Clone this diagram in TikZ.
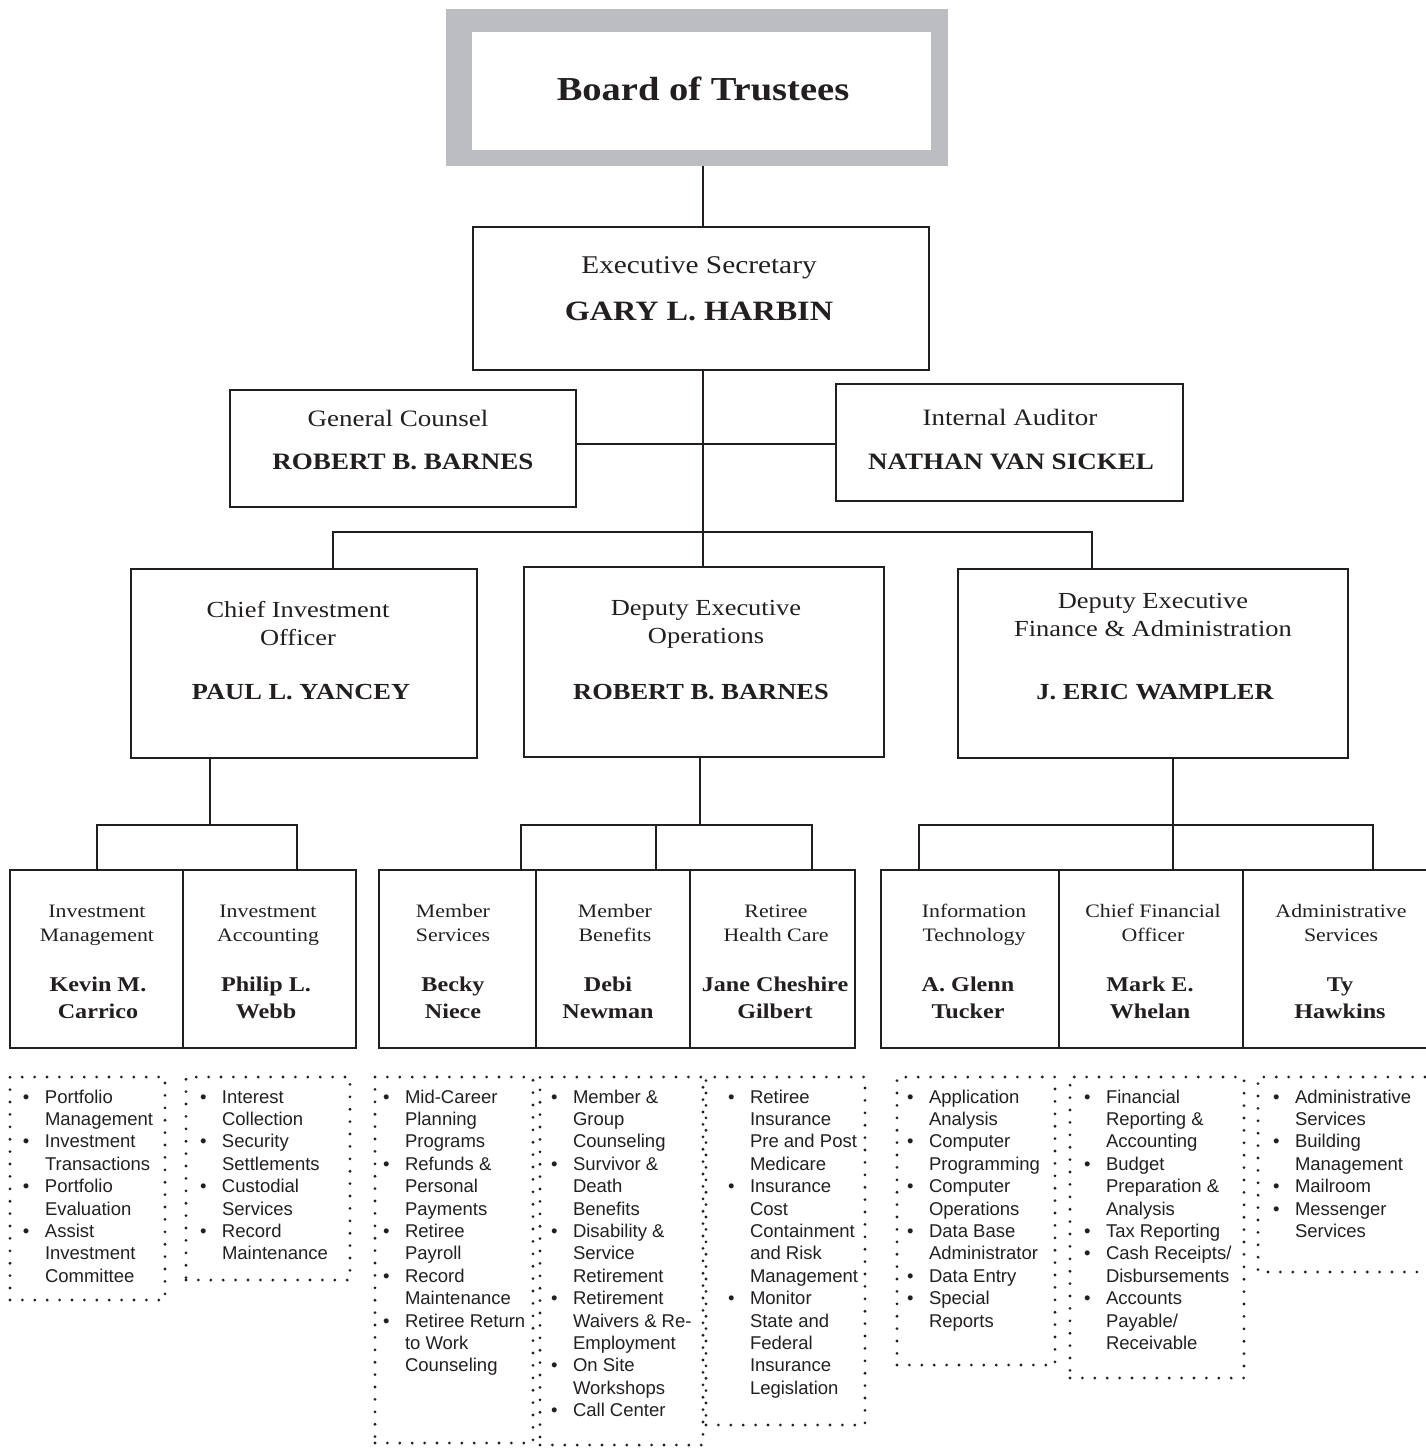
\documentclass[tikz,border=0pt]{standalone}
\usepackage{fontspec}
\setmainfont[FakeStretch=1.15]{Liberation Serif}
\setsansfont{Liberation Sans}
\definecolor{ink}{RGB}{35,31,32}
\definecolor{framegray}{RGB}{187,189,192}
\newcommand\fsz[1]{\fontsize{#1}{#1}\selectfont}
\newcommand\lbul{\makebox[22pt][l]{\textbullet}}
\newcommand\deptext[7]{%
  \node[dept] (#1a) at (#2,917) {#4};
  \node[dept] (#1b) at (#2,941) {#5};
  \node[pers] (#1c) at (#3,991) {#6};
  \node[pers] (#1d) at (#3,1018) {#7};}
\begin{document}
\begin{tikzpicture}[x=1pt,y=-1pt,
  every node/.style={inner sep=0pt,outer sep=0pt,text=ink},
  box/.style={draw=ink,line width=2.4pt,rectangle},
  conn/.style={draw=ink,line width=2pt},
  dotbox/.style={draw=ink,line width=3.1pt,line cap=round,dash pattern=on 0pt off 12.4pt},
  ttl/.style={anchor=base,font=\fsz{23.5}},
  ttlb/.style={anchor=base,font=\bfseries\fsz{23.5}},
  dtl/.style={anchor=base,font=\fsz{23}},
  dtlb/.style={anchor=base,font=\bfseries\fsz{23}},
  dept/.style={anchor=base,font=\fsz{19}},
  pers/.style={anchor=base,font=\bfseries\fsz{21}},
  lst/.style={anchor=base west,font=\sffamily\fontsize{18.5}{22.4}\selectfont}]
\useasboundingbox (0,0) rectangle (1425,1448);

% ---- Board
\node[fill=framegray,minimum width=502pt,minimum height=157pt] (bframe) at (697,87.5) {};
\node[fill=white,minimum width=459pt,minimum height=118pt] (board) at (701.5,91) {};
\node[anchor=base,font=\bfseries\fsz{33.5}] (tboard) at (703,100) {Board of Trustees};

% ---- Executive secretary
\node[box,minimum width=456pt,minimum height=143pt] (exec) at (701,298.5) {};
\node[anchor=base,font=\fsz{25.5}] (tes1) at (699,273) {Executive Secretary};
\node[anchor=base,font=\bfseries\fsz{28}] (tes2) at (699,320) {GARY L. HARBIN};

% ---- Counsel / auditor
\node[box,minimum width=346pt,minimum height=117pt] (gc) at (403,448.5) {};
\node[ttl] (tgc1) at (398,426) {General Counsel};
\node[ttlb] (tgc2) at (403,469) {ROBERT B. BARNES};
\node[box,minimum width=347pt,minimum height=117pt] (ia) at (1009.5,442.5) {};
\node[ttl] (tia1) at (1010,425) {Internal Auditor};
\node[ttlb] (tia2) at (1011,469) {NATHAN VAN SICKEL};

% ---- Deputies
\node[box,minimum width=346pt,minimum height=189pt] (cio) at (304,663.5) {};
\node[dtl] (tc1) at (298,617) {Chief Investment};
\node[dtl] (tc2) at (298,645) {Officer};
\node[dtlb] (tc3) at (301,699) {PAUL L. YANCEY};
\node[box,minimum width=360pt,minimum height=190pt] (ops) at (704,662) {};
\node[dtl] (to1) at (706,615) {Deputy Executive};
\node[dtl] (to2) at (706,643) {Operations};
\node[dtlb] (to3) at (701,699) {ROBERT B. BARNES};
\node[box,minimum width=390pt,minimum height=189pt] (fin) at (1153,663.5) {};
\node[dtl] (tf1) at (1153,608) {Deputy Executive};
\node[dtl] (tf2) at (1153,636) {Finance \& Administration};
\node[dtlb] (tf3) at (1155,699) {J. ERIC WAMPLER};

% ---- Level 4 boxes
\node[box,minimum width=173pt,minimum height=178pt] (im) at (96.5,959) {};
\node[box,minimum width=173pt,minimum height=178pt] (iac) at (269.5,959) {};
\node[box,minimum width=157pt,minimum height=178pt] (ms) at (457.5,959) {};
\node[box,minimum width=154pt,minimum height=178pt] (mb) at (613,959) {};
\node[box,minimum width=165pt,minimum height=178pt] (rhc) at (772.5,959) {};
\node[box,minimum width=178pt,minimum height=178pt] (it) at (970,959) {};
\node[box,minimum width=184pt,minimum height=178pt] (cfo) at (1151,959) {};
\node[box,minimum width=197pt,minimum height=178pt] (as) at (1341.5,959) {};

\deptext{x1}{97}{98}{Investment}{Management}{Kevin M.}{Carrico}
\deptext{x2}{268}{266}{Investment}{Accounting}{Philip L.}{Webb}
\deptext{x3}{453}{453}{Member}{Services}{Becky}{Niece}
\deptext{x4}{615}{608}{Member}{Benefits}{Debi}{Newman}
\deptext{x5}{776}{775}{Retiree}{Health Care}{Jane Cheshire}{Gilbert}
\deptext{x6}{974}{968}{Information}{Technology}{A. Glenn}{Tucker}
\deptext{x7}{1153}{1150}{Chief Financial}{Officer}{Mark E.}{Whelan}
\deptext{x8}{1341}{1340}{Administrative}{Services}{Ty}{Hawkins}

% ---- Connectors
\coordinate (vx) at (703,0);
\draw[conn] (bframe.south -| vx) -- (exec.north -| vx);
\draw[conn] (exec.south -| vx) -- (ops.north -| vx);
\coordinate (hy) at (0,444);
\draw[conn] (gc.east |- hy) -- (ia.west |- hy);
\coordinate (c1) at (333,532);
\coordinate (c2) at (1092,532);
\draw[conn] (cio.north -| c1) -- (c1) -- (c2) -- (fin.north -| c2);

\coordinate (p1) at (210,825);
\coordinate (p1l) at (97,825);
\coordinate (p1r) at (297,825);
\draw[conn] (cio.south -| p1) -- (p1);
\draw[conn] (im.north -| p1l) -- (p1l) -- (p1r) -- (iac.north -| p1r);

\coordinate (p2) at (700,825);
\coordinate (p2l) at (521,825);
\coordinate (p2m) at (656,825);
\coordinate (p2r) at (812,825);
\draw[conn] (ops.south -| p2) -- (p2);
\draw[conn] (ms.north -| p2l) -- (p2l) -- (p2r) -- (rhc.north -| p2r);
\draw[conn] (p2m) -- (mb.north -| p2m);

\coordinate (p3) at (1173,825);
\coordinate (p3l) at (919,825);
\coordinate (p3r) at (1373,825);
\draw[conn] (fin.south -| p3) -- (cfo.north -| p3);
\draw[conn] (it.north -| p3l) -- (p3l) -- (p3r) -- (as.north -| p3r);

% ---- Dotted lists
\node[dotbox,minimum width=155pt,minimum height=223pt] (d1) at (87.5,1188.5) {};
\node[dotbox,minimum width=164pt,minimum height=203pt] (d2) at (268,1178.5) {};
\node[dotbox,minimum width=158pt,minimum height=366pt] (d3) at (454,1260) {};
\node[dotbox,minimum width=163pt,minimum height=368pt] (d4) at (621.5,1261) {};
\node[dotbox,minimum width=159pt,minimum height=348pt] (d5) at (785.5,1251) {};
\node[dotbox,minimum width=158pt,minimum height=288pt] (d6) at (976,1221) {};
\node[dotbox,minimum width=174pt,minimum height=301pt] (d7) at (1157,1227.5) {};
\coordinate (d8a) at (1425,1077);
\coordinate (d8b) at (1258,1077);
\coordinate (d8c) at (1258,1272);
\coordinate (d8d) at (1425,1272);
\draw[dotbox] (d8a) -- (d8b) -- (d8c) -- (d8d);

\node[lst] (l1) at (23,1103) {\begin{tabular}[t]{@{}l@{}l@{}}
\lbul & Portfolio\\ & Management\\
\lbul & Investment\\ & Transactions\\
\lbul & Portfolio\\ & Evaluation\\
\lbul & Assist\\ & Investment\\ & Committee
\end{tabular}};
\node[lst] (l2) at (200,1103) {\begin{tabular}[t]{@{}l@{}l@{}}
\lbul & Interest\\ & Collection\\
\lbul & Security\\ & Settlements\\
\lbul & Custodial\\ & Services\\
\lbul & Record\\ & Maintenance
\end{tabular}};
\node[lst] (l3) at (383,1103) {\begin{tabular}[t]{@{}l@{}l@{}}
\lbul & Mid-Career\\ & Planning\\ & Programs\\
\lbul & Refunds \&\\ & Personal\\ & Payments\\
\lbul & Retiree\\ & Payroll\\
\lbul & Record\\ & Maintenance\\
\lbul & Retiree Return\\ & to Work\\ & Counseling
\end{tabular}};
\node[lst] (l4) at (551,1103) {\begin{tabular}[t]{@{}l@{}l@{}}
\lbul & Member \&\\ & Group\\ & Counseling\\
\lbul & Survivor \&\\ & Death\\ & Benefits\\
\lbul & Disability \&\\ & Service\\ & Retirement\\
\lbul & Retirement\\ & Waivers \& Re-\\ & Employment\\
\lbul & On Site\\ & Workshops\\
\lbul & Call Center
\end{tabular}};
\node[lst] (l5) at (728,1103) {\begin{tabular}[t]{@{}l@{}l@{}}
\lbul & Retiree\\ & Insurance\\ & Pre and Post\\ & Medicare\\
\lbul & Insurance\\ & Cost\\ & Containment\\ & and Risk\\ & Management\\
\lbul & Monitor\\ & State and\\ & Federal\\ & Insurance\\ & Legislation
\end{tabular}};
\node[lst] (l6) at (907,1103) {\begin{tabular}[t]{@{}l@{}l@{}}
\lbul & Application\\ & Analysis\\
\lbul & Computer\\ & Programming\\
\lbul & Computer\\ & Operations\\
\lbul & Data Base\\ & Administrator\\
\lbul & Data Entry\\
\lbul & Special\\ & Reports
\end{tabular}};
\node[lst] (l7) at (1084,1103) {\begin{tabular}[t]{@{}l@{}l@{}}
\lbul & Financial\\ & Reporting \&\\ & Accounting\\
\lbul & Budget\\ & Preparation \&\\ & Analysis\\
\lbul & Tax Reporting\\
\lbul & Cash Receipts/\\ & Disbursements\\
\lbul & Accounts\\ & Payable/\\ & Receivable
\end{tabular}};
\node[lst] (l8) at (1273,1103) {\begin{tabular}[t]{@{}l@{}l@{}}
\lbul & Administrative\\ & Services\\
\lbul & Building\\ & Management\\
\lbul & Mailroom\\
\lbul & Messenger\\ & Services
\end{tabular}};
\end{tikzpicture}
\end{document}
